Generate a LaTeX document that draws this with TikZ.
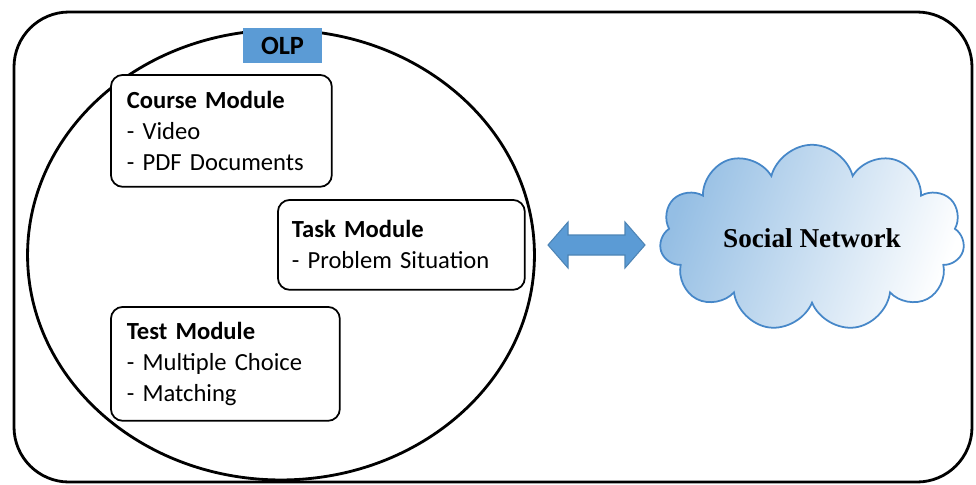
\documentclass[tikz,border=0pt]{standalone}
\usepackage{fontspec}
\setmainfont{Carlito}
\newfontfamily\timesfont{Liberation Serif}
\usetikzlibrary{shapes.geometric,shapes.symbols}
\definecolor{olpblue}{RGB}{91,155,213}
\definecolor{cloudline}{RGB}{70,135,200}

\begin{document}
\begin{tikzpicture}[
        x=0.02cm, y=-0.02cm,
        every node/.style={font=\fontsize{14}{17.6}\selectfont},
        frame/.style={draw, line width=1.6pt},
        module/.style={draw, line width=1pt, fill=white, rounded corners=0.24cm,
                       align=left, inner xsep=0.32cm, inner ysep=0pt, anchor=north west},
        link/.style={fill=olpblue, draw=olpblue!85!black, line width=0.6pt}
    ]
        \useasboundingbox (0,0) rectangle (976,484);

        % platform and its zone
        \draw[frame, rounded corners=1.1cm] (14,12) rectangle (972,482);
        \node[frame, ellipse, minimum width=10.14cm, minimum height=9cm, inner sep=0pt] (zone) at (281,255) {};
        \node[fill=olpblue, minimum width=1.58cm, minimum height=0.7cm,
              font=\fontsize{15}{18}\selectfont\bfseries] (olp) at (282.5,45.5) {OLP};

        % modules
        \node[module, text width=3.78cm, minimum height=2.24cm] (course) at (110,74)
            {\textbf{Course Module}\\- Video\\- PDF Documents};
        \node[module, text width=4.38cm, minimum height=1.8cm, inner xsep=0.28cm] (task) at (277,199)
            {\textbf{Task Module}\\- Problem Situation};
        \node[module, text width=3.94cm, minimum height=2.28cm] (test) at (110,306)
            {\textbf{Test Module}\\- Multiple Choice\\- Matching};

        % exchange with the network
        \node[cloud, cloud puffs=11, aspect=2, draw=cloudline, line width=1pt,
              left color=olpblue!65, right color=white, shading angle=70,
              minimum width=6.1cm, minimum height=3.1cm,
              font=\timesfont\bfseries\fontsize{15.5}{18}\selectfont] (social) at (812,238) {Social Network};
        \path[link] (548,245) -- (568,222) -- (568,235) -- (625,235) -- (625,222) -- (645,245)
            -- (625,268) -- (625,255) -- (568,255) -- (568,268) -- cycle;
    \end{tikzpicture}
\end{document}
